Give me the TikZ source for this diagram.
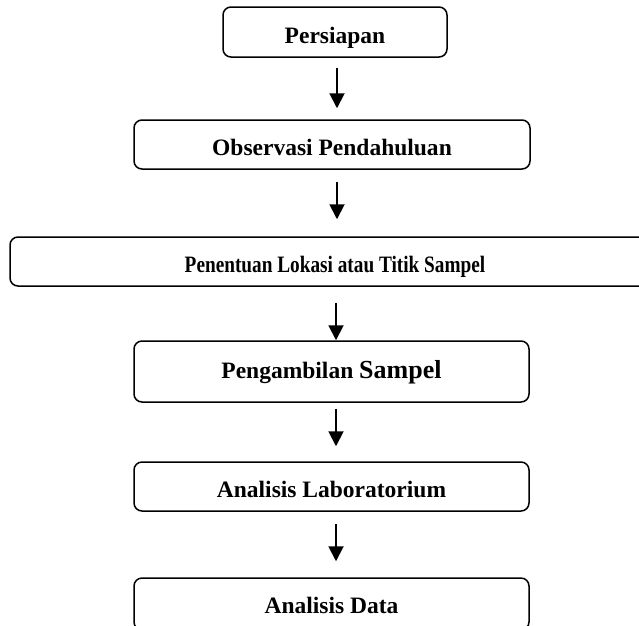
\documentclass[tikz,border=0pt]{standalone}
\usepackage{fontspec}
\setmainfont{Liberation Serif}
\usetikzlibrary{arrows.meta}
\tikzset{
  stepbox/.style={draw, line width=1.5pt, rounded corners=8pt, inner sep=0pt,
    text height=22pt, text depth=0pt,
    font=\fontsize{23.5}{26}\selectfont\bfseries, align=center},
  arr/.style={line width=1.9pt, -{Triangle[width=15pt,length=15pt]}}
}
\begin{document}
\begin{tikzpicture}[x=1pt,y=-1pt]
\clip (0,0) rectangle (639,625);
\fill[white] (0,0) rectangle (639,625);
\node[stepbox, minimum width=224pt, minimum height=50pt] (b1) at (335,32) {Persiapan};
\node[stepbox, minimum width=396pt, minimum height=49pt] (b2) at (332,144.5) {Observasi Pendahuluan};
\node[stepbox, minimum width=650pt, minimum height=49pt] (b3) at (335,261.5) {\scalebox{0.82}[1]{Penentuan Lokasi atau Titik Sampel}};
\node[stepbox, minimum width=395pt, minimum height=61pt, text height=14pt] (b4) at (331.5,371.5) {Pengambilan {\fontsize{26}{28}\selectfont Sampel}};
\node[stepbox, minimum width=395pt, minimum height=49pt] (b5) at (331.5,486.5) {Analisis Laboratorium};
\node[stepbox, minimum width=395pt, minimum height=52pt, text height=19pt] (b6) at (331.5,604) {Analisis Data};
\draw[arr, shorten <=10pt, shorten >=11pt] ([xshift=2pt]b1.south) -- ([xshift=2pt]b1.south |- b2.north);
\draw[arr, shorten <=12pt, shorten >=17pt] ([xshift=5pt]b2.south) -- ([xshift=5pt]b2.south |- b3.north);
\draw[arr, shorten <=16pt, shorten >=0pt] ([xshift=4.5pt]b4.north |- b3.south) -- ([xshift=4.5pt]b4.north);
\draw[arr, shorten <=6pt, shorten >=15pt] ([xshift=4.5pt]b4.south) -- ([xshift=4.5pt]b5.north);
\draw[arr, shorten <=12pt, shorten >=16pt] ([xshift=4.5pt]b5.south) -- ([xshift=4.5pt]b6.north);
\end{tikzpicture}
\end{document}
